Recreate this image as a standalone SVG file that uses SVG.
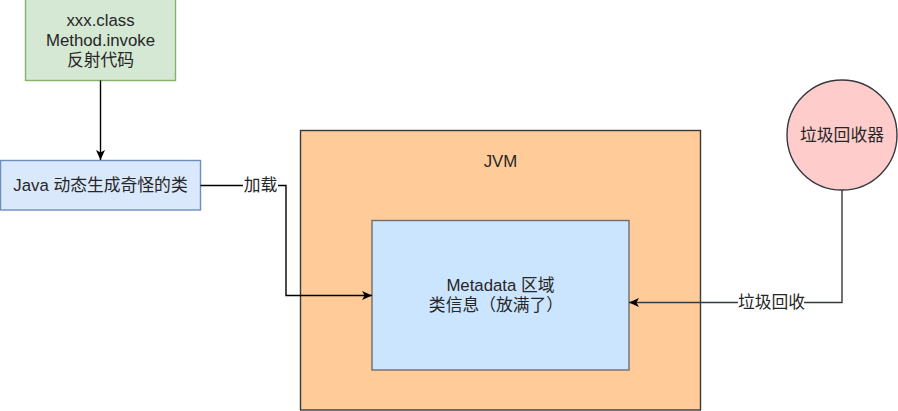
<svg xmlns="http://www.w3.org/2000/svg" width="898" height="411" viewBox="0 0 898 411">
<style>
text{font-family:"Liberation Sans","Noto Sans CJK SC",sans-serif;font-size:16.8px;fill:#262626;text-anchor:middle;dominant-baseline:central}
.edge{fill:none;stroke:#000;stroke-width:1.4}
.lbl{fill:#fff}
</style>
<defs>
<marker id="arr" markerWidth="10" markerHeight="10" refX="10" refY="5" orient="auto" markerUnits="userSpaceOnUse">
<path d="M10,5 L0,0.5 L2.6,5 L0,9.5 Z" fill="#000"/>
</marker>
</defs>
<g id="jvm">
<rect x="300.5" y="130.5" width="400" height="279.5" fill="#ffcc99" stroke="#36393d" stroke-width="1.4"/>
<text x="500.5" y="161">JVM</text>
</g>
<g id="metadata">
<rect x="372" y="220.5" width="257" height="149.5" fill="#cce5ff" stroke="#6e6e6e" stroke-width="1.4"/>
<text x="500.5" y="285">Metadata 区域</text>
<text x="496" y="305">类信息（放满了）</text>
</g>
<g id="reflect">
<rect x="25.5" y="-1" width="150" height="81.5" fill="#d5e8d4" stroke="#82b366" stroke-width="1.4"/>
<text x="100.5" y="20.5">xxx.class</text>
<text x="100.5" y="40.5">Method.invoke</text>
<text x="100.5" y="60.5">反射代码</text>
</g>
<g id="javaclass">
<rect x="0.5" y="160.5" width="200" height="49.5" fill="#dae8fc" stroke="#6c8ebf" stroke-width="1.4"/>
<text x="100.5" y="185.5">Java 动态生成奇怪的类</text>
</g>
<g id="gc">
<circle cx="842" cy="135" r="55" fill="#ffcccc" stroke="#36393d" stroke-width="1.4"/>
<text x="842" y="135.5">垃圾回收器</text>
</g>
<g id="connectors">
<path class="edge" d="M100.5,80.5 L100.5,160" marker-end="url(#arr)"/>
<path class="edge" d="M200.5,185.5 L286,185.5 L286,295.5 L372,295.5" marker-end="url(#arr)"/>
<rect class="lbl" x="243" y="176" width="35" height="20"/>
<text x="260.5" y="185.5">加载</text>
<path class="edge" style="stroke:#36393d" d="M842,190 L842,302.5 L629,302.5" marker-end="url(#arr)"/>
<rect class="lbl" x="738" y="293" width="66" height="20"/>
<text x="771.5" y="302.5">垃圾回收</text>
</g>
</svg>
